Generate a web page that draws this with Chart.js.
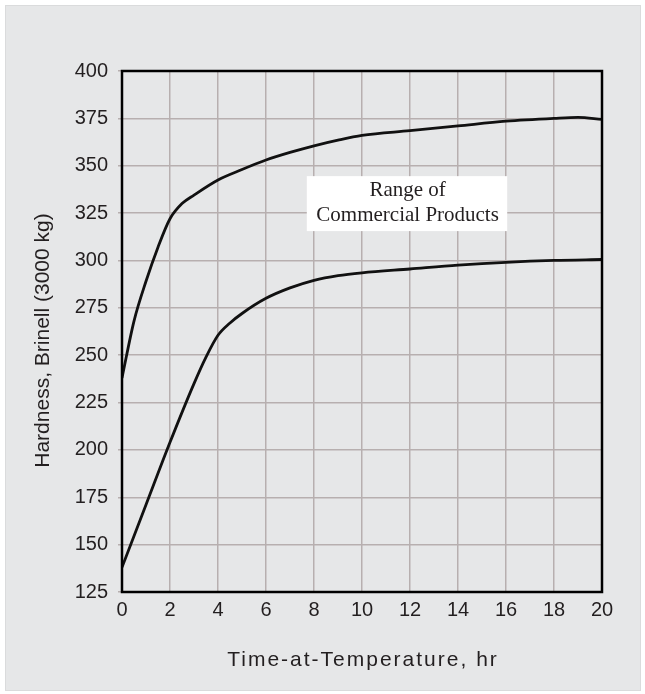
<!DOCTYPE html>
<html>
<head>
    <title>Hardness vs time-at-temperature</title>
    <script src="https://cdn.jsdelivr.net/npm/chart.js"></script>
    <style>
        body { margin: 0; background: #ffffff; }
        #tlo {
            position: absolute; left: 5px; top: 5px; width: 634px; height: 684px;
            background: #e6e7e8; border: 1px solid #dadbdc;
        }
        #wykres { position: absolute; left: 0; top: 0; }
    </style>
</head>
<body>
<div id="tlo"></div>
<canvas id="wykres" width="645" height="694"></canvas>

<script>
// upper bound of the range (hours, Brinell)
const upperHours = [0, 0.5, 1, 1.5, 2, 2.5, 3, 4, 5, 6, 7, 8, 9, 10, 12, 14, 16, 18, 19, 20];
const upperHardness = [238, 268, 289, 307, 322, 330, 334.5, 342.5, 348, 353, 357, 360.5, 363.5, 366, 368.5, 371, 373.5, 375, 375.5, 374.5];

// lower bound of the range
const lowerHours = [0, 1, 2, 3, 3.5, 4, 4.5, 5, 6, 7, 8, 9, 10, 12, 14, 16, 18, 20];
const lowerHardness = [138, 171, 204, 235, 249, 260.5, 267, 272, 280, 285.5, 289.5, 292, 293.5, 295.5, 297.5, 299, 300, 300.5];

const xTicks = [0, 2, 4, 6, 8, 10, 12, 14, 16, 18, 20];
const yTicks = [125, 150, 175, 200, 225, 250, 275, 300, 325, 350, 375, 400];

const rangeLabel = ['Range of', 'Commercial Products'];
const xTitle = 'Time-at-Temperature, hr';
const yTitle = 'Hardness, Brinell (3000 kg)';

function toPoints(xs, ys) {
    return xs.map((x, i) => ({ x: x, y: ys[i] }));
}

const sans = "'Liberation Sans', Arial, Helvetica, sans-serif";
const textColor = '#231f20';

const labelPlugin = {
    id: 'labelBox',
    // white box + label over the grid, under the curves
    beforeDatasetsDraw(chart) {
        const { ctx, scales: { x, y } } = chart;
        const x0 = x.getPixelForValue(7.7), x1 = x.getPixelForValue(16.05);
        const y0 = y.getPixelForValue(344.5), y1 = y.getPixelForValue(315.5);
        ctx.save();
        ctx.fillStyle = '#ffffff';
        ctx.fillRect(x0, y0, x1 - x0, y1 - y0);
        ctx.fillStyle = textColor;
        ctx.font = "21px 'Liberation Serif', 'Times New Roman', serif";
        ctx.textAlign = 'center';
        ctx.textBaseline = 'middle';
        const cx = x.getPixelForValue(11.9);
        ctx.fillText(rangeLabel[0], cx, y.getPixelForValue(337));
        ctx.fillText(rangeLabel[1], cx, y.getPixelForValue(323.5));
        ctx.restore();
    },
    afterDatasetsDraw(chart) {
        const { ctx, chartArea: a } = chart;
        ctx.save();
        ctx.strokeStyle = '#000000';
        ctx.lineWidth = 2.5;
        ctx.strokeRect(a.left, a.top, a.right - a.left, a.bottom - a.top);

        ctx.fillStyle = textColor;
        ctx.textAlign = 'center';
        ctx.textBaseline = 'middle';
        // y title (sits a bit lower than the axis middle in the original)
        ctx.font = '21px ' + sans;
        ctx.save();
        ctx.translate(43, (a.top + a.bottom) / 2 + 9);
        ctx.rotate(-Math.PI / 2);
        ctx.fillText(yTitle, 0, 0);
        ctx.restore();
        // x title, the original is set with wide letter spacing
        ctx.letterSpacing = '2px';
        ctx.fillText(xTitle, (a.left + a.right) / 2 + 1, a.bottom + 68);
        ctx.restore();
    }
};

new Chart(document.getElementById('wykres'), {
    type: 'line',
    data: {
        datasets: [
            { data: toPoints(upperHours, upperHardness) },
            { data: toPoints(lowerHours, lowerHardness) }
        ]
    },
    options: {
        responsive: false,
        animation: false,
        layout: { padding: { left: 0, top: 71, right: 43, bottom: 0 } },
        elements: {
            line: { borderColor: '#111111', borderWidth: 2.8, cubicInterpolationMode: 'monotone', fill: false },
            point: { radius: 0 }
        },
        plugins: {
            legend: { display: false },
            tooltip: { enabled: false }
        },
        scales: {
            x: {
                type: 'linear',
                min: 0, max: 20,
                afterBuildTicks: s => { s.ticks = xTicks.map(v => ({ value: v })); },
                afterFit: s => { s.height = 102; },
                grid: { color: '#b7afaf', lineWidth: 1.5, drawTicks: false },
                border: { display: false },
                ticks: { color: textColor, font: { family: sans, size: 20 }, padding: 6, maxRotation: 0 },
                title: { display: false }
            },
            y: {
                type: 'linear',
                min: 125, max: 400,
                afterBuildTicks: s => { s.ticks = yTicks.map(v => ({ value: v })); },
                afterFit: s => { s.width = 122; },
                grid: { color: '#b7afaf', lineWidth: 1.5, tickLength: 4 },
                border: { display: false },
                ticks: { color: textColor, font: { family: sans, size: 20 }, padding: 10 },
                title: { display: false }
            }
        }
    },
    plugins: [labelPlugin]
});
</script>
</body>
</html>
